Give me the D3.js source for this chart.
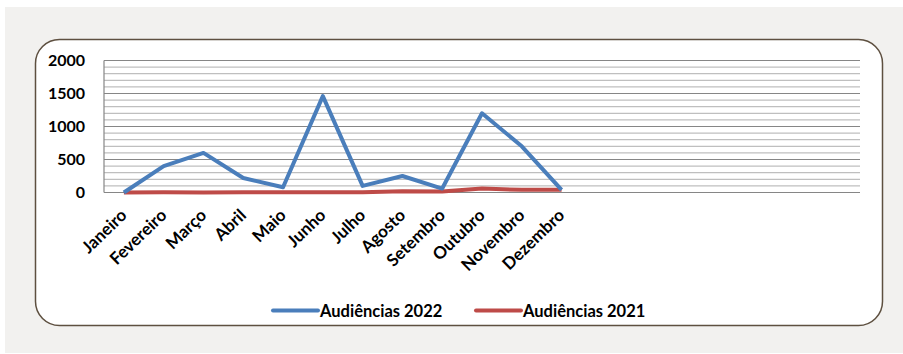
<!DOCTYPE html>
<html><head><meta charset="utf-8">
<script src="https://cdn.jsdelivr.net/npm/d3@7"></script>
<style>body{margin:0;background:#fff}svg{display:block}text{font-family:Lato,"Open Sans",sans-serif;font-weight:bold;fill:#000}</style>
</head><body><svg id="c" width="903" height="354"></svg>
<script>
const months = ["Janeiro","Fevereiro","Março","Abril","Maio","Junho","Julho","Agosto","Setembro","Outubro","Novembro","Dezembro"];
const emptySlots = 7;
const aud2022 = [0, 400, 600, 220, 80, 1460, 100, 250, 60, 1200, 700, 40];
const aud2021 = [0, 5, 0, 5, 5, 5, 5, 20, 15, 60, 40, 40];
const yTicks = [0, 500, 1000, 1500, 2000];
const seriesNames = ["Audiências 2022", "Audiências 2021"];
const colors = ["#4a7ebb", "#be4b48"];

const svg = d3.select("#c");
svg.append("rect").attr("x",5).attr("y",7).attr("width",898).attr("height",346).attr("fill","#f2f1ef");
svg.append("rect").attr("x",35.5).attr("y",39.5).attr("width",847).attr("height",286).attr("rx",24).attr("ry",24)
  .attr("fill","#fff").attr("stroke","#5e5040").attr("stroke-width",1.5);

const L=104, R=860, T=60.5, B=192.5;
const slots = d3.range(months.length + emptySlots);
const x = d3.scaleBand().domain(slots).range([L,R]);
const cx = i => x(i) + x.bandwidth()/2;
const y = d3.scaleLinear().domain([0,2000]).range([B,T]);

const g = svg.append("g");
g.selectAll(".minor").data(d3.range(100,2000,100).filter(v=>v%500)).join("line")
  .attr("x1",L).attr("x2",R).attr("y1",d=>y(d)).attr("y2",d=>y(d))
  .attr("stroke","#bfbfbf").attr("stroke-width",1.2);
g.selectAll(".major").data(yTicks.filter(v=>v>0)).join("line")
  .attr("x1",L).attr("x2",R).attr("y1",d=>y(d)).attr("y2",d=>y(d))
  .attr("stroke","#868686").attr("stroke-width",1.2);
svg.append("line").attr("x1",L).attr("x2",L).attr("y1",T).attr("y2",B).attr("stroke","#868686").attr("stroke-width",1.2);
svg.append("line").attr("x1",L).attr("x2",R).attr("y1",B).attr("y2",B).attr("stroke","#868686").attr("stroke-width",1.2);

svg.selectAll(".yl").data(yTicks).join("text")
  .attr("x",85).attr("y",d=>y(d)).attr("dy","0.36em").attr("text-anchor","end")
  .style("font-size","16px").text(d=>d);

svg.selectAll(".xl").data(months).join("text")
  .attr("transform",(d,i)=>`translate(${cx(i)+4},${B+24}) rotate(-44)`)
  .attr("text-anchor","end").style("font-size","17px").text(d=>d);

const line = d3.line().x((d,i)=>cx(i)).y(d=>y(d));
[aud2021, aud2022].forEach(s=>{
  const idx = s===aud2022?0:1;
  svg.append("path").datum(s).attr("d",line)
    .attr("fill","none").attr("stroke",colors[idx]).attr("stroke-width",4).attr("stroke-linejoin","round");
});

const legX = [273, 476];
seriesNames.forEach((n,i)=>{
  svg.append("line").attr("x1",legX[i]).attr("x2",legX[i]+45).attr("y1",310.5).attr("y2",310.5)
    .attr("stroke",colors[i]).attr("stroke-width",4).attr("stroke-linecap","round");
  svg.append("text").attr("x",legX[i]+47).attr("y",316.5).style("font-size","16.5px").text(n);
});
</script></body></html>
